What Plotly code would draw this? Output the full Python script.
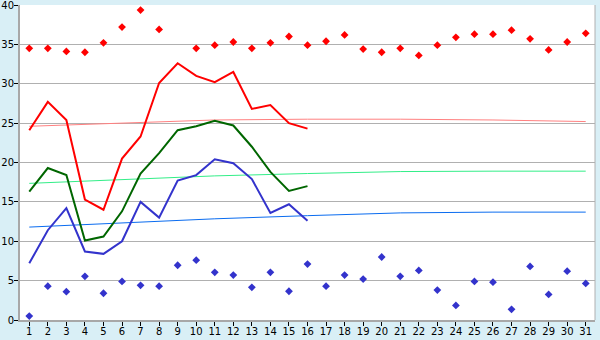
import plotly.graph_objects as go

days = list(range(1, 32))
tick_labels = [str(d) for d in days]

# Scatter points (daily extremes)
red_points = [34.5, 34.5, 34.1, 34.0, 35.2, 37.2, 39.35, 36.9, None, 34.5,
              34.9, 35.3, 34.5, 35.2, 36.0, 34.9, 35.4, 36.2, 34.4, 34.0,
              34.5, 33.6, 34.9, 35.9, 36.3, 36.3, 36.8, 35.7, 34.3, 35.3, 36.4]
blue_points = [0.5, 4.3, 3.6, 5.55, 3.4, 4.9, 4.4, 4.3, 6.95, 7.6,
               6.05, 5.7, 4.15, 6.05, 3.65, 7.1, 4.3, 5.7, 5.2, 8.0,
               5.55, 6.3, 3.8, 1.85, 4.9, 4.8, 1.35, 6.8, 3.25, 6.2, 4.65]

# Lines for days 1..16
line_days = list(range(1, 17))
red_line = [24.1, 27.7, 25.4, 15.3, 14.0, 20.5, 23.3, 30.1, 32.6, 31.0,
            30.2, 31.5, 26.8, 27.3, 25.0, 24.3]
green_line = [16.3, 19.3, 18.4, 10.1, 10.6, 13.8, 18.6, 21.2, 24.1, 24.6,
              25.3, 24.7, 22.0, 18.8, 16.4, 17.0]
blue_line = [7.2, 11.4, 14.2, 8.7, 8.4, 10.0, 15.0, 13.0, 17.7, 18.4,
             20.4, 19.9, 17.9, 13.6, 14.7, 12.6]

# Long-term reference curves
trend_days = [1, 6, 11, 16, 21, 26, 31]
red_trend = [24.6, 25.0, 25.4, 25.5, 25.5, 25.4, 25.2]
green_trend = [17.35, 17.8, 18.3, 18.6, 18.85, 18.9, 18.9]
blue_trend = [11.8, 12.3, 12.85, 13.25, 13.6, 13.7, 13.7]

y_ticks = [0, 5, 10, 15, 20, 25, 30, 35, 40]

RED = "#FF0000"
GREEN = "#006600"
BLUE = "#3333CC"

fig = go.Figure()

fig.add_trace(go.Scatter(x=trend_days, y=red_trend, mode="lines",
                         line=dict(color="#FF8080", width=1)))
fig.add_trace(go.Scatter(x=trend_days, y=green_trend, mode="lines",
                         line=dict(color="#33EE88", width=1)))
fig.add_trace(go.Scatter(x=trend_days, y=blue_trend, mode="lines",
                         line=dict(color="#0A6CF0", width=1)))

fig.add_trace(go.Scatter(x=line_days, y=red_line, mode="lines",
                         line=dict(color=RED, width=2)))
fig.add_trace(go.Scatter(x=line_days, y=green_line, mode="lines",
                         line=dict(color=GREEN, width=2)))
fig.add_trace(go.Scatter(x=line_days, y=blue_line, mode="lines",
                         line=dict(color=BLUE, width=2)))

fig.add_trace(go.Scatter(x=days, y=red_points, mode="markers",
                         marker=dict(symbol="diamond", size=6, color=RED)))
fig.add_trace(go.Scatter(x=days, y=blue_points, mode="markers",
                         marker=dict(symbol="diamond", size=6, color=BLUE)))

fig.update_layout(
    width=600, height=340,
    margin=dict(l=20, r=5, t=5, b=20, autoexpand=False),
    paper_bgcolor="#D9EFF6",
    plot_bgcolor="#FFFFFF",
    showlegend=False,
    font=dict(family="DejaVu Sans", size=10, color="#000000"),
    xaxis=dict(
        range=[0.5, 31.5], tickmode="array", tickvals=days, ticktext=tick_labels,
        showgrid=False, zeroline=False, automargin=False,
        showline=True, linecolor="#A8A8A8", linewidth=2,
        ticks="outside", ticklen=4, tickcolor="#000000", tickwidth=1,
        ticklabelstandoff=-3, ticklabeloverflow="allow",
    ),
    yaxis=dict(
        range=[0, 40], tickmode="array", tickvals=y_ticks,
        showgrid=True, gridcolor="#B0B0B0", gridwidth=1, zeroline=False,
        automargin=False,
        showline=True, linecolor="#A8A8A8", linewidth=2,
        ticks="outside", ticklen=4, tickcolor="#000000", tickwidth=1,
        ticklabelstandoff=-2, ticklabeloverflow="allow",
    ),
    shapes=[dict(type="line", xref="paper", yref="paper", x0=1, x1=1, y0=0, y1=1,
                 line=dict(color="#B0B0B0", width=1))],
)

fig.write_html("out.html", config={"displayModeBar": False})
